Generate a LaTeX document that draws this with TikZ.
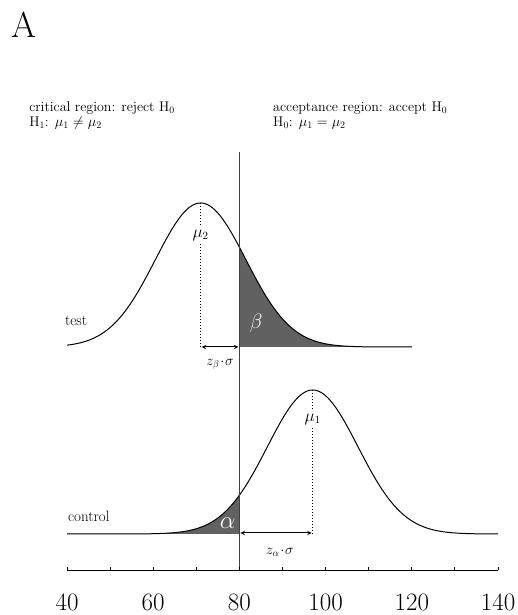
\documentclass[tikz,border=0pt]{standalone}
\usepackage{amsmath,amssymb}
\begin{document}
\begin{tikzpicture}[x=4.31pt,y=1pt,>=stealth,
  curve/.style={line width=1pt,samples=150},
  tail/.style={fill=black!62,draw=none,samples=100},
  txt/.style={font=\fontsize{14}{16}\selectfont,inner sep=0pt},
  mean/.style={font=\fontsize{16}{16}\selectfont,inner sep=3pt},
  dots/.style={dotted,line width=1pt},
  span/.style={<->,line width=1pt,shorten <=1pt,shorten >=1pt}]
\useasboundingbox (24.45,0) rectangle (144.41,615);
\node[font=\fontsize{36}{36}\selectfont,inner sep=0pt] (panel) at (30.1,590) {A};
% headers
\node[txt,anchor=west] (crit) at (31.2,507) {critical region: reject H\textsubscript{0}};
\node[txt,anchor=west] (hone) at (31.2,492) {H\textsubscript{1}: $\mu_1\neq\mu_2$};
\node[txt,anchor=west] (acc) at (87.8,507) {acceptance region: accept H\textsubscript{0}};
\node[txt,anchor=west] (hzero) at (87.8,492) {H\textsubscript{0}: $\mu_1=\mu_2$};
% shaded tails
\fill[tail] (80,268) -- plot[domain=80:120] (\x,{268+144*exp(-(\x-71)^2/220.5)}) -- (120,268) -- cycle;
\fill[tail] (40,81) -- plot[domain=40:80] (\x,{81+144*exp(-(\x-97)^2/220.5)}) -- (80,81) -- cycle;
% curves
\draw[curve,domain=40:120] plot (\x,{268+144*exp(-(\x-71)^2/220.5)});
\draw[curve,domain=40:140] plot (\x,{81+144*exp(-(\x-97)^2/220.5)});
\node[txt,anchor=west,font=\fontsize{15}{16}\selectfont] (test) at (39.5,294) {test};
\node[txt,anchor=west,font=\fontsize{15}{16}\selectfont] (control) at (40.2,99) {control};
\node[font=\fontsize{21}{21}\selectfont,text=white] (beta) at (83.9,292) {$\beta$};
\node[font=\fontsize{23}{23}\selectfont,text=white] (alpha) at (77.3,92) {$\alpha$};
% critical value
\coordinate (linetop) at (80,463);
\coordinate (lineend) at (80,45);
\draw[line width=1pt,black!75] (linetop) -- (lineend);
% means
\coordinate (peaktest) at (71,412);
\coordinate (basetest) at (71,268);
\coordinate (peakctrl) at (97,225);
\coordinate (basectrl) at (97,81);
\node[mean] (mutwo) at (71,380) {$\mu_2$};
\node[mean] (muone) at (97,196) {$\mu_1$};
\draw[dots] (peaktest) -- (mutwo.north);
\draw[dots] (mutwo.south) -- (basetest);
\draw[dots] (peakctrl) -- (muone.north);
\draw[dots] (muone.south) -- (basectrl);
\coordinate (cuttest) at (80,268);
\coordinate (cutctrl) at (80,82);
\draw[span] (basetest) -- (cuttest);
\draw[span] (cutctrl) -- (97,82);
\node[font=\fontsize{14}{14}\selectfont] (zbeta) at (75.5,251) {$z_\beta\!\cdot\!\sigma$};
\node[font=\fontsize{14}{14}\selectfont] (zalpha) at (89.4,63) {$z_\alpha\!\cdot\!\sigma$};
% axis
\coordinate (axl) at (40,45);
\coordinate (axr) at (140,45);
\draw[line width=0.9pt] (axl) -- (axr);
\foreach \t in {40,50,...,140}
  \draw[line width=0.9pt] (\t,45) -- (\t,48);
\foreach \t in {40,60,...,140}
  \node[font=\fontsize{25}{25}\selectfont] (tick\t) at (\t,13) {\t};
\end{tikzpicture}
\end{document}
